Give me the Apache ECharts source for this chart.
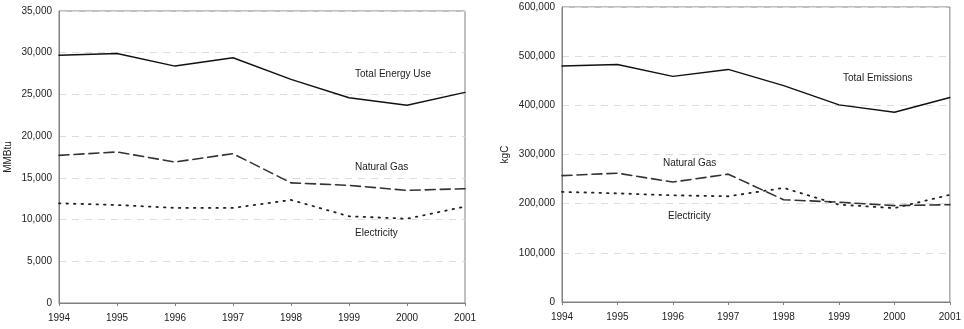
<!DOCTYPE html>
<html><head><meta charset="utf-8">
<script src="https://cdn.jsdelivr.net/npm/echarts@6/dist/echarts.min.js"></script>
<style>html,body{margin:0;padding:0;background:#fff}#c{width:964px;height:329px}</style>
</head><body><div id="c"></div>
<script>
var years = ['1994','1995','1996','1997','1998','1999','2000','2001'];
var energyTotal = [29700, 29900, 28400, 29400, 26800, 24600, 23700, 25250];
var energyGas = [17700, 18100, 16900, 17900, 14400, 14100, 13500, 13700];
var energyElec = [11950, 11750, 11400, 11400, 12350, 10400, 10100, 11550];
var emisTotal = [480000, 483000, 459000, 473000, 440000, 401000, 386000, 416000];
var emisGas = [257000, 262000, 244000, 260000, 208000, 203000, 196000, 198000];
var emisElec = [224000, 221000, 217000, 215000, 232000, 198000, 191000, 218000];

var font = 'Liberation Sans, Arial, sans-serif';
var axisColor = '#808080';
function fmt(v){ return v.toLocaleString('en-US'); }
function xAx(gi){
  return {type:'category', gridIndex:gi, data:years, boundaryGap:false,
    axisLine:{lineStyle:{color:axisColor}}, axisTick:{length:3, lineStyle:{color:axisColor}},
    axisLabel:{color:'#222', fontFamily:font, fontSize:10, margin:10},
    splitLine:{show:false}};
}
function yAx(gi, max, interval, name, nameGap){
  return {type:'value', gridIndex:gi, min:0, max:max, interval:interval,
    name:name, nameLocation:'middle', nameGap:nameGap, nameRotate:90,
    nameTextStyle:{color:'#222', fontFamily:font, fontSize:10},
    axisLine:{show:true, lineStyle:{color:axisColor}}, axisTick:{show:false},
    axisLabel:{color:'#222', fontFamily:font, fontSize:10, margin:7, formatter:fmt},
    splitLine:{show:true, lineStyle:{color:'#dcdcdc', type:[7,6]}}};
}
function line(xi, data, color, dash, w){
  return {type:'line', xAxisIndex:xi, yAxisIndex:xi, data:data, symbol:'none',
    lineStyle:{color:color, width:w, type:dash, cap:'round'}, animation:false, silent:true};
}
function txt(x, y, t){
  return {type:'text', left:x, top:y, style:{text:t, font:'10px ' + font, fill:'#222'}};
}
var chart = echarts.init(document.getElementById('c'), null, {renderer:'canvas'});
chart.setOption({
  animation:false,
  grid:[
    {left:59, top:11, width:406, height:292, show:true, borderColor:axisColor, borderWidth:1},
    {left:562, top:7, width:396, height:295, show:true, borderColor:axisColor, borderWidth:1}
  ],
  xAxis:[xAx(0), xAx(1)],
  yAxis:[yAx(0, 35000, 5000, 'MMBtu', 46), yAx(1, 600000, 100000, 'kgC', 52)],
  series:[
    line(0, energyTotal, '#111', 'solid', 1.4),
    line(0, energyGas, '#333', [10,5], 1.6),
    line(0, energyElec, '#222', [1.5,6], 1.8),
    line(1, emisTotal, '#111', 'solid', 1.4),
    line(1, emisGas, '#333', [10,5], 1.6),
    line(1, emisElec, '#222', [1.5,6], 1.8)
  ],
  graphic:[
    txt(355, 69, 'Total Energy Use'),
    txt(355, 162, 'Natural Gas'),
    txt(355, 228, 'Electricity'),
    txt(843, 73, 'Total Emissions'),
    txt(663, 158, 'Natural Gas'),
    txt(668, 211, 'Electricity')
  ]
});
</script></body></html>
